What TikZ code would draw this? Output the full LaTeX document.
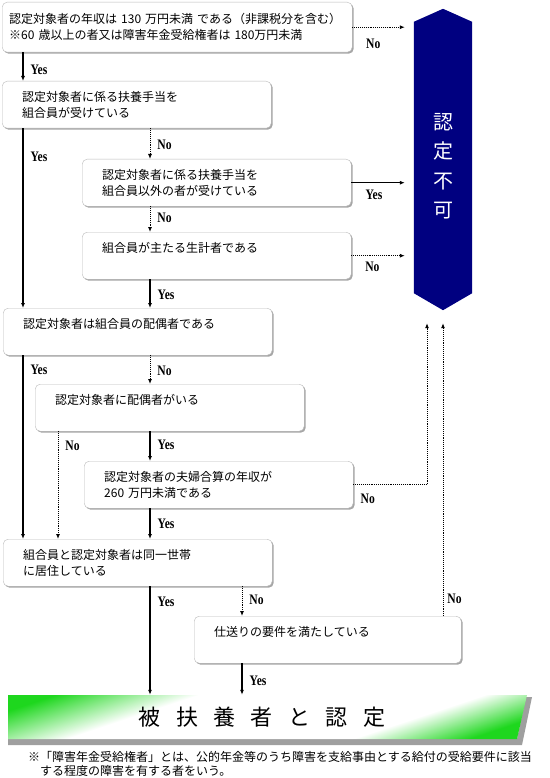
\documentclass[tikz,border=0pt]{standalone}
\usepackage{fontspec}
\usetikzlibrary{arrows.meta,calc,shadows}
\newfontfamily\jpfont{Noto Sans CJK JP}
\newfontfamily\lblfont{Liberation Serif}[FakeStretch=0.8]
\definecolor{ngblue}{RGB}{0,0,128}
\definecolor{okgreen}{RGB}{30,215,30}
\pgfdeclarehorizontalshading{okshade}{100bp}{color(0bp)=(okgreen); color(29bp)=(okgreen); color(40bp)=(white); color(62bp)=(white); color(71bp)=(okgreen); color(100bp)=(okgreen)}
\newcommand{\gap}{\hspace{0.7em}}

\begin{document}
\begin{tikzpicture}[x=1pt, y=-1pt, >={Latex[length=5pt,width=4pt]},
    qbox/.style={draw=gray!55, rounded corners=5pt, fill=white, anchor=north west,
      align=left, inner xsep=20pt, minimum height=47pt,
      font=\jpfont\fontsize{12}{16}\selectfont,
      drop shadow={shadow xshift=1.5pt, shadow yshift=-1.5pt, fill=gray!70, opacity=1}},
    yes/.style={->, line width=1.3pt},
    no/.style={->, densely dotted, line width=0.9pt},
    lbl/.style={font=\lblfont\bfseries\fontsize{14.5}{14.5}\selectfont, inner sep=1pt}]
    \useasboundingbox (0,0) rectangle (549,778);

    % Fragen
    \node[qbox, inner xsep=7pt, text width=336pt, minimum height=50pt] (q1) at (2,2)
      {認定対象者の年収は 130 万円未満 である（非課税分を含む）\\※60 歳以上の者又は障害年金受給権者は 180万円未満};
    \node[qbox, text width=229pt] (q2) at (2,81) {認定対象者に係る扶養手当を\\組合員が受けている};
    \node[qbox, text width=229pt] (q3) at (82,159) {認定対象者に係る扶養手当を\\組合員以外の者が受けている};
    \node[qbox, text width=229pt] (q4) at (82,232) {組合員が主たる生計者である\\\mbox{}};
    \node[qbox, text width=229pt] (q5) at (3,308) {認定対象者は組合員の配偶者である\\\mbox{}};
    \node[qbox, text width=229pt] (q6) at (35,384) {認定対象者に配偶者がいる\\\mbox{}};
    \node[qbox, text width=229pt] (q7) at (84,461) {認定対象者の夫婦合算の年収が\\260 万円未満である};
    \node[qbox, text width=229pt] (q8) at (3,539) {組合員と認定対象者は同一世帯\\に居住している};
    \node[qbox, text width=227pt] (q9) at (194,616) {仕送りの要件を満たしている\\\mbox{}};

    % Saeule rechts
    \node[minimum width=58pt, minimum height=271pt, inner sep=0pt] (ng) at (443,157.5) {};
    \fill[ngblue] (ng.north west) -- ($(ng.north)+(0,-13)$) -- (ng.north east)
      -- (ng.south east) -- ($(ng.south)+(0,17)$) -- (ng.south west) -- cycle;
    \node[text=white, align=center, font=\jpfont\fontsize{20}{29.5}\selectfont] (ngt)
      at ($(ng.center)+(0,8.5)$) {認\\定\\不\\可};
    \coordinate (up1) at ($(ng.south)+(-16,30)$);
    \coordinate (up2) at ($(ng.south)+(0,30)$);

    % Band unten
    \fill[gray!75] (8,739) -- (517,739) -- (526,697) -- (532,697) -- (522,745) -- (8,745) -- cycle;
    \begin{scope}
      \clip (8,695) -- (527,695) -- (517,739) -- (8,739) -- cycle;
      \begin{scope}[transform canvas={shift={(262,717)}, xslant=3}]
        \shade[shading=okshade] (-325,-25) rectangle (325,25);
      \end{scope}
    \end{scope}
    \node[font=\jpfont\fontsize{22}{22}\selectfont, minimum width=510pt, minimum height=44pt] (ok)
      at (262,717) {被\gap 扶\gap 養\gap 者\gap と\gap 認\gap 定};

    % Spalten
    \coordinate (xa) at (23,0);
    \coordinate (xb) at (150,0);
    \coordinate (xc) at (58,0);
    \coordinate (xd) at (242,0);

    % Pfeile
    \draw[yes] (q1.south -| xa) -- node[lbl, right=6pt, pos=.6] (l1) {Yes} (q2.north -| xa);
    \draw[no, shorten >=9pt] (q1.east) -- node[lbl, anchor=north west, pos=.2, yshift=-10pt] (l2) {No} (q1.east -| ng.west);
    \draw[yes] (q2.south -| xa) -- node[lbl, right=6pt, pos=.16] (l3) {Yes} (q5.north -| xa);
    \draw[no] (q2.south -| xb) -- node[lbl, right=6pt, pos=.55] (l4) {No} (q3.north -| xb);
    \draw[yes, shorten >=9pt] (q3.east) -- node[lbl, anchor=north west, pos=.2, yshift=-6pt] (l5) {Yes} (q3.east -| ng.west);
    \draw[no] (q3.south -| xb) -- node[lbl, right=6pt, pos=.45] (l6) {No} (q4.north -| xb);
    \draw[no, shorten >=9pt] (q4.east) -- node[lbl, anchor=north west, pos=.2, yshift=-5pt] (l7) {No} (q4.east -| ng.west);
    \draw[yes] (q4.south -| xb) -- node[lbl, right=6pt, pos=.55] (l8) {Yes} (q5.north -| xb);
    \draw[yes] (q5.south -| xa) -- node[lbl, right=6pt, pos=.08] (l9) {Yes} (q8.north -| xa);
    \draw[no] (q5.south -| xb) -- node[lbl, right=6pt, pos=.55] (l10) {No} (q6.north -| xb);
    \draw[no] (q6.south -| xc) -- node[lbl, right=6pt, pos=.13] (l11) {No} (q8.north -| xc);
    \draw[yes] (q6.south -| xb) -- node[lbl, right=6pt, pos=.47] (l12) {Yes} (q7.north -| xb);
    \draw[no] (q7.east) -| node[lbl, anchor=north west, pos=.04, yshift=-8pt] (l13) {No} (up1);
    \draw[yes] (q7.south -| xb) -- node[lbl, right=6pt, pos=.5] (l14) {Yes} (q8.north -| xb);
    \draw[yes] (q8.south -| xb) -- node[lbl, right=6pt, pos=.14] (l15) {Yes} (ok.north -| xb);
    \draw[no] (q8.south -| xd) -- node[lbl, right=6pt, pos=.47] (l16) {No} (q9.north -| xd);
    \draw[no] (q9.north -| up2) -- node[lbl, right=3pt, pos=.06] (l17) {No} (up2);
    \draw[yes] (q9.south -| xd) -- node[lbl, right=6pt, pos=.55] (l18) {Yes} (ok.north -| xd);

    % Fussnote
    \node[anchor=west, inner sep=0pt, font=\jpfont\fontsize{12}{14}\selectfont] (fn1) at (28,757)
      {※「障害年金受給権者」とは、公的年金等のうち障害を支給事由とする給付の受給要件に該当};
    \node[anchor=west, inner sep=0pt, font=\jpfont\fontsize{12}{14}\selectfont] (fn2) at (40,771)
      {する程度の障害を有する者をいう。};
\end{tikzpicture}
\end{document}
